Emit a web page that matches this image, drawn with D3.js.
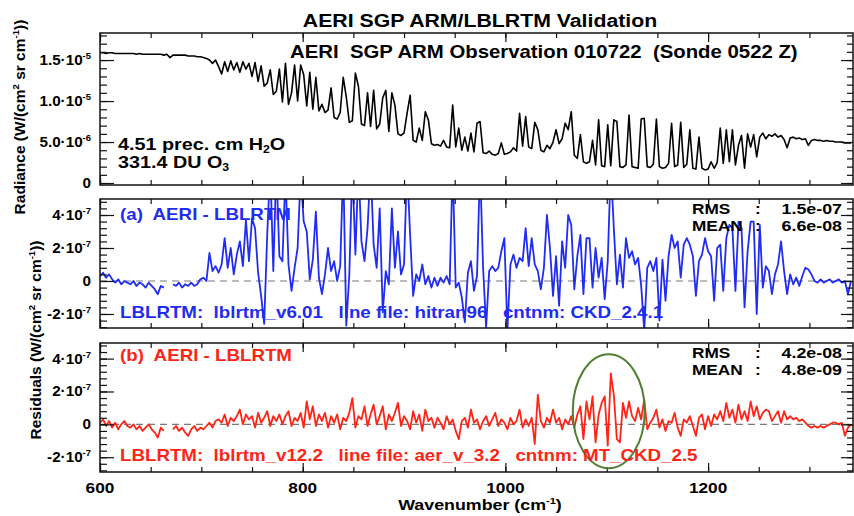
<!DOCTYPE html>
<html>
<head>
<meta charset="utf-8">
<script src="https://cdn.jsdelivr.net/npm/d3@7"></script>
<style>
  body { margin: 0; background: #fff; }
  svg { font-family: "Liberation Sans", Arial, Helvetica, sans-serif; font-weight: bold; }
  text { white-space: pre; }
</style>
</head>
<body>
<svg id="chart" width="854" height="516"></svg>
<script>
// wavenumber grid in cm-1, one sample every 3 cm-1 (600 ... 1341)
const wavenumbers = d3.range(600, 1342, 3);

// AERI observed radiance, in units of 1e-6 W/(cm2 sr cm-1)
const radiance = [
  15.9,15.9,15.8,15.9,15.9,15.8,15.8,15.8,15.8,15.8,   // 600
  15.8,15.8,15.7,15.8,15.7,15.7,15.7,15.7,15.7,15.7,   // 630
  15.7,15.6,15.7,15.3,15.6,15.6,15.6,15.6,15.6,15.5,   // 660
  15.5,15.5,15.4,15.4,15.3,15.2,15.0,14.6,15.0,14.2,   // 690
  13.3,14.8,13.6,14.9,13.8,14.7,13.5,14.8,13.9,14.6,   // 720
  13.0,14.7,12.4,14.3,11.8,12.2,13.8,10.8,11.2,13.9,   // 750
  9.9,14.6,9.6,11.0,14.4,10.0,14.4,13.2,9.4,13.5,      // 780
  9.0,12.9,8.8,9.6,8.6,8.9,11.6,8.0,7.8,8.6,           // 810
  12.9,10.5,7.4,7.6,13.4,11.8,7.2,7.0,11.0,6.9,        // 840
  11.3,6.6,7.2,10.4,11.3,6.3,11.0,9.5,6.0,5.8,         // 870
  6.1,8.5,10.7,5.2,5.0,6.7,5.2,8.7,7.7,4.8,            // 900
  4.6,4.7,4.5,5.2,4.4,4.3,9.5,4.4,6.7,4.0,             // 930
  5.6,3.9,6.1,3.8,7.3,7.5,3.7,3.6,3.9,3.5,             // 960
  3.4,3.6,4.9,3.5,3.6,3.8,4.3,3.9,8.5,4.5,             // 990
  8.1,4.4,4.2,7.4,6.5,4.0,3.8,4.6,4.2,5.0,             // 1020
  6.5,4.8,5.4,7.3,6.5,8.7,3.4,3.0,5.9,2.6,             // 1050
  2.4,2.6,5.2,2.2,7.7,2.1,2.0,7.1,2.1,7.7,             // 1080
  7.5,2.0,1.9,2.2,8.3,2.0,1.9,1.8,7.8,7.9,             // 1110
  2.0,1.9,2.3,7.8,2.0,1.8,1.9,2.4,7.3,2.0,             // 1140
  2.2,7.4,1.9,2.3,6.5,1.8,1.7,5.6,1.8,1.6,             // 1170
  1.7,2.6,1.8,2.5,6.7,2.4,6.5,2.6,6.5,2.2,             // 1200
  4.6,5.8,1.8,6.0,4.4,5.9,3.2,5.6,6.1,5.4,             // 1230
  5.9,5.7,6.0,5.6,5.8,5.3,4.3,5.5,5.6,5.4,             // 1260
  5.5,5.3,5.4,4.6,5.2,5.3,5.2,5.2,5.1,5.2,             // 1290
  5.1,5.1,5.0,5.0,5.0,4.9,4.9,4.9                      // 1320
];

// (a) AERI - LBLRTM v6.01 residuals, in units of 1e-7 (null = no data)
const residualA = [
  0.3,0.5,0.2,0.4,0.1,-0.1,0.1,-0.2,0.0,-0.1,          // 600
  -0.2,0.0,-0.3,-0.1,-0.2,-0.4,-0.1,-0.3,-0.5,-0.8,    // 630
  -0.3,-0.4,null,null,-0.2,-0.3,-0.1,-0.4,-0.2,-0.3,   // 660
  -0.1,-0.3,-0.2,0.1,0.2,0.0,1.7,0.6,0.9,0.5,          // 690
  1.0,2.6,0.8,2.0,0.4,1.6,2.4,0.9,3.7,1.2,             // 720
  3.8,3.2,0.5,-0.9,-2.6,2.8,7.0,0.6,7.0,1.5,           // 750
  1.2,6.5,1.0,-0.6,0.8,2.0,6.5,3.6,3.0,0.1,            // 780
  1.3,4.2,0.2,-0.8,0.4,2.0,0.6,1.2,0.0,0.9,            // 810
  7.0,-2.7,0.4,7.0,1.6,7.0,2.4,1.2,3.2,7.0,            // 840
  2.2,0.8,4.4,-1.9,0.6,-0.2,4.4,0.8,3.0,0.4,           // 870
  1.0,7.0,2.8,-0.9,0.4,0.0,1.0,-0.2,0.3,-0.4,          // 900
  0.2,-0.3,0.2,-0.1,0.3,-0.2,7.0,-0.4,-0.1,-1.0,       // 930
  -2.5,0.5,1.2,-0.6,0.3,7.0,0.8,-2.8,0.6,0.9,          // 960
  0.6,0.8,1.8,2.6,-3.0,1.0,1.6,0.8,1.4,1.2,            // 990
  3.2,0.9,2.6,1.0,0.6,-0.5,0.8,4.0,2.0,-0.9,           // 1020
  1.5,-1.5,2.4,0.8,4.0,3.4,-0.5,1.5,2.8,-0.8,          // 1050
  2.6,2.6,-0.4,2.0,0.2,1.4,-1.1,1.2,7.0,3.2,           // 1080
  -0.2,1.6,-0.4,2.6,1.4,1.8,1.0,1.4,-0.3,-3.0,         // 1110
  0.8,1.2,0.6,1.4,-2.4,1.3,-1.2,1.5,2.8,2.0,           // 1140
  2.4,0.2,2.2,2.6,2.2,1.5,-0.9,1.2,1.6,2.6,            // 1170
  1.8,1.5,-1.2,2.0,2.2,-0.6,2.6,3.4,3.2,-0.6,          // 1200
  3.6,3.2,-1.6,1.8,3.6,3.6,-2.0,3.4,-0.4,0.9,          // 1230
  0.6,-0.8,0.4,1.0,2.4,0.6,-0.8,0.4,-0.2,0.2,          // 1260
  -0.3,0.3,0.8,0.7,0.4,0.0,-0.1,0.1,-0.1,0.0,          // 1290
  0.1,-0.1,0.0,0.1,-0.1,0.0,-0.8,0.0                   // 1320
];

// (b) AERI - LBLRTM v12.2 residuals, in units of 1e-7 (null = no data)
const residualB = [
  0.1,0.3,-0.1,0.2,-0.2,0.1,-0.3,0.0,0.2,-0.1,         // 600
  -0.2,0.0,-0.3,-0.1,-0.4,-0.2,0.0,-0.3,-0.5,-0.8,     // 630
  -0.2,-0.4,null,null,-0.3,-0.1,-0.4,-0.2,-0.5,-0.7,   // 660
  -0.3,-0.1,-0.4,-0.2,-0.3,-0.1,0.1,-0.2,0.2,0.3,      // 690
  0.1,0.6,-0.1,0.4,0.2,0.5,0.9,0.0,0.6,0.3,            // 720
  0.5,-0.2,0.7,0.1,0.4,0.8,-0.1,0.5,0.2,0.6,           // 750
  0.0,0.5,0.8,-0.1,0.4,0.2,0.7,-0.2,1.4,0.3,           // 780
  1.1,-0.1,0.6,0.2,0.7,-0.2,0.5,0.1,0.6,-0.3,          // 810
  0.4,0.2,0.7,1.6,-0.2,0.5,0.3,1.1,-0.1,0.6,           // 840
  1.2,0.0,0.5,1.1,-0.3,0.6,0.2,0.7,1.3,-0.1,           // 870
  0.5,0.2,-0.3,0.8,0.1,0.6,-0.4,0.9,0.2,0.4,           // 900
  -0.2,0.4,0.1,-0.3,0.5,0.0,0.3,-0.4,-0.9,0.2,         // 930
  0.4,-0.2,0.9,0.1,0.3,-0.3,0.2,0.5,-0.1,0.3,          // 960
  0.7,-0.1,0.3,0.1,-0.3,0.4,0.0,0.2,0.9,-0.2,          // 990
  0.3,-0.1,0.4,-1.2,1.8,0.2,-0.2,0.4,0.1,0.9,          // 1020
  0.1,0.4,-0.3,0.3,0.0,0.5,-0.2,0.6,1.1,-0.9,          // 1050
  1.4,0.3,1.7,-1.1,0.6,1.3,1.7,-1.3,3.1,1.8,           // 1080
  -0.9,-1.1,1.3,0.4,1.4,0.5,0.2,1.0,0.3,1.5,           // 1110
  -0.3,0.1,0.4,0.9,-0.2,0.3,-0.4,0.2,0.1,0.7,          // 1140
  -0.2,-0.7,0.3,0.1,0.5,-0.1,-0.7,0.4,0.6,-0.3,        // 1170
  0.5,-0.1,0.6,0.3,0.8,0.2,1.3,0.4,0.9,0.1,            // 1200
  1.2,0.3,0.8,0.2,1.4,0.5,1.1,0.3,0.7,0.9,             // 1230
  0.8,0.2,0.5,0.8,0.1,0.8,0.3,0.5,0.3,0.4,             // 1260
  0.2,0.3,0.1,-0.1,-0.2,-0.1,-0.2,-0.1,-0.2,-0.1,      // 1290
  0.0,0.1,0.1,0.0,0.1,-0.7,-0.2,0.0                    // 1320
];

// tick values and their labels ([mantissa, exponent])
const xTicks = [600, 800, 1000, 1200];
const radianceTicks = [0, 5, 10, 15];
const radianceTickLabels = [['0', ''], ['5.0·10', '-6'], ['1.0·10', '-5'], ['1.5·10', '-5']];
const residualTicks = [-2, 0, 2, 4];
const residualTickLabels = [['-2·10', '-7'], ['0', ''], ['2·10', '-7'], ['4·10', '-7']];

// statistics printed in the residual panels
const statsA = { rms: '1.5e-07', mean: '6.6e-08' };
const statsB = { rms: '4.2e-08', mean: '4.8e-09' };

// highlighted region in panel (b): centre and half axes in data units
const highlight = { wavenumber: 1102, value: 0.8, halfWidth: 35.5, halfHeight: 3.47 };

const BLUE = '#1f2cf2';
const RED = '#ff2414';
const STRETCH = 1.15; // the reference lettering is a little wider than tall

const svg = d3.select('#chart');
const x = d3.scaleLinear().domain([600, 1343]).range([100, 853]);

// text made of plain / superscript / subscript pieces
function richText(text, parts, size) {
  let shift = 0;
  parts.forEach(([str, kind]) => {
    const s = kind === 'sup' ? -0.42 * size : kind === 'sub' ? 0.2 * size : 0;
    text.append('tspan')
      .attr('dy', s - shift)
      .attr('font-size', kind ? size * 0.62 : size)
      .text(str);
    shift = s;
  });
  return text;
}

function label(x0, y0, parts, size, color, anchor) {
  const t = svg.append('text')
    .attr('transform', `translate(${x0},${y0}) scale(${STRETCH},1)`)
    .attr('text-anchor', anchor || 'start')
    .attr('fill', color || '#000');
  return richText(t, parts, size);
}

function drawPanel(cfg) {
  const y = d3.scaleLinear().domain(cfg.domain).range([cfg.bottom, cfg.top]);
  const g = svg.append('g');
  const [x0, x1] = x.range();

  g.append('clipPath').attr('id', cfg.id)
    .append('rect')
    .attr('x', x0).attr('y', cfg.top)
    .attr('width', x1 - x0).attr('height', cfg.bottom - cfg.top);

  if (cfg.zeroLine) {
    g.append('line')
      .attr('x1', x0).attr('x2', x1)
      .attr('y1', y(0)).attr('y2', y(0))
      .attr('stroke', '#7a7a7a').attr('stroke-width', 1.2)
      .attr('stroke-dasharray', '7,5');
  }

  const line = d3.line()
    .defined(d => d[1] !== null)
    .x(d => x(d[0]))
    .y(d => y(d[1]));

  g.append('path')
    .datum(d3.zip(wavenumbers, cfg.values))
    .attr('clip-path', `url(#${cfg.id})`)
    .attr('fill', 'none')
    .attr('stroke', cfg.color)
    .attr('stroke-width', cfg.width)
    .attr('stroke-linejoin', 'round')
    .attr('d', line);

  // inward ticks on all four sides
  const minorY = d3.range(cfg.minor[0], cfg.minor[1] + 1e-9, cfg.minor[2]);
  const minorX = d3.range(600, 1343, 50);
  const noLabel = ax => ax.tickFormat('').tickSizeOuter(0);
  const axes = [
    [d3.axisLeft(y).tickValues(cfg.ticks).tickSize(-14), `translate(${x0},0)`],
    [d3.axisLeft(y).tickValues(minorY).tickSize(-7), `translate(${x0},0)`],
    [d3.axisRight(y).tickValues(cfg.ticks).tickSize(-12), `translate(${x1},0)`],
    [d3.axisRight(y).tickValues(minorY).tickSize(-6), `translate(${x1},0)`],
    [d3.axisBottom(x).tickValues(xTicks).tickSize(-9), `translate(0,${cfg.bottom})`],
    [d3.axisBottom(x).tickValues(minorX).tickSize(-5), `translate(0,${cfg.bottom})`],
    [d3.axisTop(x).tickValues(xTicks).tickSize(-9), `translate(0,${cfg.top})`],
    [d3.axisTop(x).tickValues(minorX).tickSize(-5), `translate(0,${cfg.top})`]
  ];
  axes.forEach(([ax, tr]) => {
    const a = g.append('g').attr('transform', tr).call(noLabel(ax));
    a.select('.domain').remove();
    a.selectAll('line').attr('stroke', '#111').attr('stroke-width', 1.2);
  });

  g.append('rect')
    .attr('x', x0).attr('y', cfg.top)
    .attr('width', x1 - x0).attr('height', cfg.bottom - cfg.top)
    .attr('fill', 'none').attr('stroke', '#111').attr('stroke-width', 1.5);

  g.selectAll('text.ytick')
    .data(cfg.ticks)
    .join('text')
    .attr('class', 'ytick')
    .attr('transform', d => `translate(${x0 - 9},${y(d) + 5}) scale(1.05,1)`)
    .attr('text-anchor', 'end')
    .each(function (d, i) {
      const [m, e] = cfg.tickLabels[i];
      richText(d3.select(this), e ? [[m, null], [e, 'sup']] : [[m, null]], 14.5);
    });

  return y;
}

// top panel: radiance
drawPanel({
  id: 'clipTop', top: 33, bottom: 185, domain: [-0.24, 18.3],
  values: radiance, color: '#000', width: 1.6,
  ticks: radianceTicks, tickLabels: radianceTickLabels, minor: [0, 18, 1]
});

// middle panel: old model residuals
drawPanel({
  id: 'clipMid', top: 199, bottom: 328, domain: [-2.85, 4.97],
  values: residualA, color: BLUE, width: 1.8, zeroLine: true,
  ticks: residualTicks, tickLabels: residualTickLabels, minor: [-2.8, 4.8, 0.4]
});

// bottom panel: new model residuals
const yB = drawPanel({
  id: 'clipBot', top: 343, bottom: 472, domain: [-2.9, 4.95],
  values: residualB, color: RED, width: 1.8, zeroLine: true,
  ticks: residualTicks, tickLabels: residualTickLabels, minor: [-2.8, 4.8, 0.4]
});

// highlighted feature
svg.append('ellipse')
  .attr('cx', x(highlight.wavenumber))
  .attr('cy', yB(highlight.value))
  .attr('rx', x(highlight.wavenumber + highlight.halfWidth) - x(highlight.wavenumber))
  .attr('ry', yB(0) - yB(highlight.halfHeight))
  .attr('fill', 'none')
  .attr('stroke', '#4f7f33')
  .attr('stroke-width', 2);

// x tick labels under the bottom panel
svg.selectAll('text.xtick')
  .data(xTicks)
  .join('text')
  .attr('class', 'xtick')
  .attr('transform', d => `translate(${x(d)},493) scale(${STRETCH},1)`)
  .attr('text-anchor', 'middle')
  .attr('font-size', 15)
  .text(d => d);

// titles
label(480, 27, [['AERI SGP ARM/LBLRTM Validation', null]], 18.5, '#000', 'middle');
label(290, 58, [['AERI  SGP ARM Observation 010722  (Sonde 0522 Z)', null]], 17.7);
label(480, 510, [['Wavenumber (cm', null], ['-1', 'sup'], [')', null]], 15.5, '#000', 'middle');

const yTitle = (cx, cy, parts) => richText(
  svg.append('text')
    .attr('transform', `translate(${cx},${cy}) rotate(-90)`)
    .attr('text-anchor', 'middle'),
  parts, 15.5);
yTitle(25, 117, [['Radiance (W/(cm', null], ['2', 'sup'], [' sr cm', null], ['-1', 'sup'], ['))', null]]);
yTitle(41, 340, [['Residuals (W/(cm', null], ['2', 'sup'], [' sr cm', null], ['-1', 'sup'], ['))', null]]);

// annotations in the top panel
label(118, 150, [['4.51 prec. cm H', null], ['2', 'sub'], ['O', null]], 17.2);
label(118, 168, [['331.4 DU O', null], ['3', 'sub']], 17.2);

// annotations in the residual panels
label(120, 220, [['(a)  AERI - LBLRTM', null]], 16.3, BLUE);
label(120, 318, [['LBLRTM:  lblrtm_v6.01   line file: hitran96   cntnm: CKD_2.4.1', null]], 16.3, BLUE);
label(120, 361, [['(b)  AERI - LBLRTM', null]], 16.3, RED);
label(120, 461, [['LBLRTM:  lblrtm_v12.2   line file: aer_v_3.2   cntnm: MT_CKD_2.5', null]], 16.3, RED);

function stats(s, yRms, yMean) {
  label(692, yRms, [['RMS', null]], 15);
  label(692, yMean, [['MEAN', null]], 15);
  label(755, yRms, [[':', null]], 15);
  label(755, yMean, [[':', null]], 15);
  label(842, yRms, [[s.rms, null]], 15.5, '#000', 'end');
  label(842, yMean, [[s.mean, null]], 15.5, '#000', 'end');
}
stats(statsA, 214, 231);
stats(statsB, 358, 375);
</script>
</body>
</html>
